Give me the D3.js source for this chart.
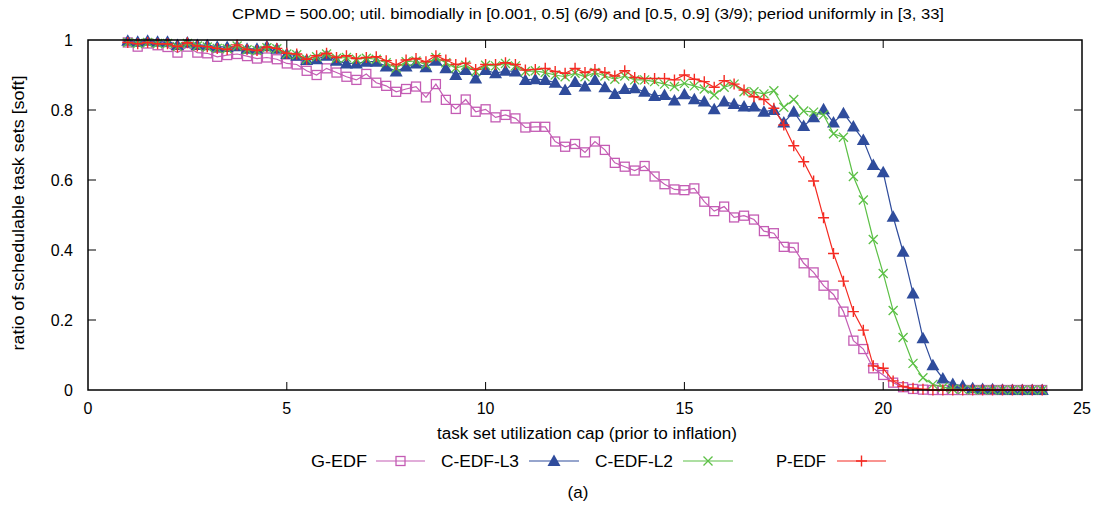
<!DOCTYPE html>
<html><head><meta charset="utf-8">
<script src="https://cdn.jsdelivr.net/npm/d3@7/dist/d3.min.js"></script>
<style>body{margin:0;background:#fff}svg{display:block}text{font-family:"Liberation Sans",Arial,sans-serif}</style>
</head><body><svg id="c" width="1103" height="507"></svg>
<script>
const title = "CPMD = 500.00; util. bimodially in [0.001, 0.5] (6/9) and [0.5, 0.9] (3/9); period uniformly in [3, 33]";
const xLabel = "task set utilization cap (prior to inflation)";
const yLabel = "ratio of schedulable task sets [soft]";
const xTicks = [0, 5, 10, 15, 20, 25];
const yTicks = [0, 0.2, 0.4, 0.6, 0.8, 1];
const utilCaps = [1,1.25,1.5,1.75,2,2.25,2.5,2.75,3,3.25,3.5,3.75,4,4.25,4.5,4.75,5,5.25,5.5,5.75,6,6.25,6.5,6.75,7,7.25,7.5,7.75,8,8.25,8.5,8.75,9,9.25,9.5,9.75,10,10.25,10.5,10.75,11,11.25,11.5,11.75,12,12.25,12.5,12.75,13,13.25,13.5,13.75,14,14.25,14.5,14.75,15,15.25,15.5,15.75,16,16.25,16.5,16.75,17,17.25,17.5,17.75,18,18.25,18.5,18.75,19,19.25,19.5,19.75,20,20.25,20.5,20.75,21,21.25,21.5,21.75,22,22.25,22.5,22.75,23,23.25,23.5,23.75,24];
const gEDF = [0.993,0.981,0.99,0.985,0.98,0.964,0.981,0.964,0.962,0.952,0.957,0.96,0.954,0.947,0.95,0.945,0.933,0.93,0.912,0.90,0.919,0.907,0.895,0.886,0.903,0.878,0.869,0.852,0.86,0.867,0.836,0.874,0.829,0.803,0.83,0.795,0.802,0.779,0.786,0.776,0.75,0.752,0.752,0.71,0.695,0.703,0.679,0.71,0.686,0.649,0.638,0.627,0.64,0.61,0.588,0.573,0.571,0.576,0.538,0.511,0.524,0.493,0.498,0.487,0.454,0.448,0.409,0.407,0.362,0.336,0.298,0.273,0.224,0.141,0.117,0.062,0.043,0.021,0.008,0.003,0.001,0,0,0,0,0,0,0,0,0,0,0,0];
const cEDFL3 = [0.998,0.995,0.998,0.995,0.995,0.986,0.993,0.986,0.985,0.981,0.98,0.982,0.975,0.975,0.982,0.975,0.96,0.955,0.943,0.945,0.955,0.941,0.933,0.933,0.938,0.938,0.924,0.91,0.924,0.933,0.922,0.941,0.919,0.90,0.914,0.89,0.914,0.905,0.912,0.91,0.886,0.888,0.886,0.878,0.857,0.88,0.867,0.886,0.865,0.846,0.86,0.862,0.852,0.84,0.843,0.827,0.845,0.831,0.824,0.802,0.824,0.817,0.81,0.81,0.795,0.80,0.764,0.795,0.754,0.779,0.802,0.764,0.791,0.753,0.714,0.643,0.622,0.495,0.395,0.276,0.148,0.071,0.033,0.017,0.012,0.005,0.003,0.002,0.001,0,0,0,0];
const cEDFL2 = [0.993,0.99,0.993,0.99,0.99,0.981,0.99,0.983,0.98,0.976,0.975,0.983,0.972,0.97,0.978,0.975,0.96,0.958,0.945,0.952,0.96,0.948,0.95,0.945,0.948,0.945,0.935,0.92,0.938,0.94,0.93,0.95,0.935,0.92,0.928,0.91,0.928,0.926,0.933,0.926,0.91,0.912,0.907,0.90,0.895,0.905,0.895,0.907,0.897,0.888,0.897,0.886,0.886,0.881,0.874,0.867,0.876,0.869,0.86,0.843,0.865,0.874,0.852,0.852,0.846,0.855,0.808,0.83,0.797,0.794,0.786,0.732,0.722,0.61,0.543,0.43,0.333,0.227,0.15,0.076,0.035,0.016,0.008,0.003,0.001,0,0,0,0,0,0,0,0];
const pEDF = [0.993,0.989,0.993,0.989,0.989,0.981,0.992,0.983,0.981,0.976,0.973,0.986,0.973,0.97,0.98,0.976,0.962,0.96,0.945,0.955,0.962,0.95,0.955,0.947,0.95,0.952,0.941,0.929,0.943,0.947,0.938,0.955,0.943,0.93,0.934,0.916,0.93,0.93,0.935,0.93,0.914,0.916,0.919,0.91,0.905,0.919,0.907,0.916,0.907,0.897,0.912,0.893,0.89,0.89,0.89,0.886,0.90,0.888,0.881,0.865,0.884,0.874,0.857,0.838,0.83,0.805,0.757,0.698,0.652,0.597,0.492,0.39,0.311,0.224,0.171,0.069,0.062,0.026,0.01,0.005,0.002,0,0,0,0,0,0,0,0,0,0,0,0];
const seriesNames = ["G-EDF", "C-EDF-L3", "C-EDF-L2", "P-EDF"];
const seriesColors = ["#c45cb4", "#2f4c9c", "#5cc046", "#f42a22"];
const seriesValues = [gEDF, cEDFL3, cEDFL2, pEDF];
const seriesMarkers = ["square", "triangle", "cross", "plus"];

const svg = d3.select("#c");
const L = 88, R = 1082, T = 40, B = 390;
const FS = 16;
const x = d3.scaleLinear().domain([0, 25]).range([L, R]);
const y = d3.scaleLinear().domain([0, 1]).range([B, T]);

// title
svg.append("text").attr("x", 588).attr("y", 19).attr("text-anchor", "middle")
  .attr("font-size", 14.5).attr("textLength", 712).attr("lengthAdjust", "spacingAndGlyphs").text(title);

// ticks (inward, mirrored)
const tk = 8;
const g = svg.append("g").attr("stroke", "#000").attr("stroke-width", 1);
xTicks.forEach(v => {
  if (v === 0 || v === 25) return;
  g.append("line").attr("x1", x(v)).attr("x2", x(v)).attr("y1", B).attr("y2", B - tk);
  g.append("line").attr("x1", x(v)).attr("x2", x(v)).attr("y1", T).attr("y2", T + tk);
});
yTicks.forEach(v => {
  if (v === 0 || v === 1) return;
  g.append("line").attr("x1", L).attr("x2", L + tk).attr("y1", y(v)).attr("y2", y(v));
  g.append("line").attr("x1", R).attr("x2", R - tk).attr("y1", y(v)).attr("y2", y(v));
});
xTicks.forEach(v => {
  svg.append("text").attr("x", x(v)).attr("y", B + 24).attr("text-anchor", "middle").attr("font-size", FS).text(v);
});
yTicks.forEach(v => {
  svg.append("text").attr("x", L - 15).attr("y", y(v) + 6).attr("text-anchor", "end").attr("font-size", FS).text(v === 0 || v === 1 ? v : v.toFixed(1));
});

// axis labels
svg.append("text").attr("x", 587).attr("y", 439).attr("text-anchor", "middle").attr("font-size", FS)
  .attr("textLength", 300).attr("lengthAdjust", "spacingAndGlyphs").text(xLabel);
svg.append("text").attr("transform", "translate(24,213) rotate(-90)").attr("text-anchor", "middle").attr("font-size", FS)
  .attr("textLength", 275).attr("lengthAdjust", "spacingAndGlyphs").text(yLabel);

// markers
function drawMarker(sel, type, color, cx, cy) {
  if (type === "square") {
    sel.append("rect").attr("x", cx - 4.5).attr("y", cy - 4.5).attr("width", 9).attr("height", 9)
      .attr("fill", "none").attr("stroke", color).attr("stroke-width", 1.3);
  } else if (type === "triangle") {
    sel.append("path").attr("d", `M${cx},${cy - 6.5}L${cx + 6.5},${cy + 5}L${cx - 6.5},${cy + 5}Z`).attr("fill", color);
  } else if (type === "cross") {
    sel.append("path").attr("d", `M${cx - 4.5},${cy - 4.5}L${cx + 4.5},${cy + 4.5}M${cx - 4.5},${cy + 4.5}L${cx + 4.5},${cy - 4.5}`)
      .attr("stroke", color).attr("stroke-width", 1.3).attr("fill", "none");
  } else {
    sel.append("path").attr("d", `M${cx - 5.5},${cy}L${cx + 5.5},${cy}M${cx},${cy - 5.5}L${cx},${cy + 5.5}`)
      .attr("stroke", color).attr("stroke-width", 1.4).attr("fill", "none");
  }
}

const line = d3.line().x((d, i) => x(utilCaps[i])).y(d => y(d));
seriesValues.forEach((vals, si) => {
  const sg = svg.append("g");
  sg.append("path").attr("d", line(vals)).attr("fill", "none").attr("stroke", seriesColors[si]).attr("stroke-width", 1.2);
  vals.forEach((v, i) => drawMarker(sg, seriesMarkers[si], seriesColors[si], x(utilCaps[i]), y(v)));
});

// frame
svg.append("rect").attr("x", L).attr("y", T).attr("width", R - L).attr("height", B - T)
  .attr("fill", "none").attr("stroke", "#000").attr("stroke-width", 1.5);

// legend
const legTextStart = [311, 441, 595, 776];
const legTextLen = [56, 78, 78, 50];
const legLine = [[376, 425], [529, 579], [683, 733], [837, 886]];
seriesNames.forEach((n, si) => {
  svg.append("text").attr("x", legTextStart[si]).attr("y", 467).attr("font-size", FS)
    .attr("textLength", legTextLen[si]).attr("lengthAdjust", "spacingAndGlyphs").text(n);
  svg.append("line").attr("x1", legLine[si][0]).attr("x2", legLine[si][1]).attr("y1", 461).attr("y2", 461)
    .attr("stroke", seriesColors[si]).attr("stroke-width", 1.2);
  drawMarker(svg, seriesMarkers[si], seriesColors[si], (legLine[si][0] + legLine[si][1]) / 2, 461);
});
svg.append("text").attr("x", 578).attr("y", 498).attr("text-anchor", "middle").attr("font-size", 17)
  .attr("font-family", "Liberation Serif, serif").text("(a)");
</script></body></html>
